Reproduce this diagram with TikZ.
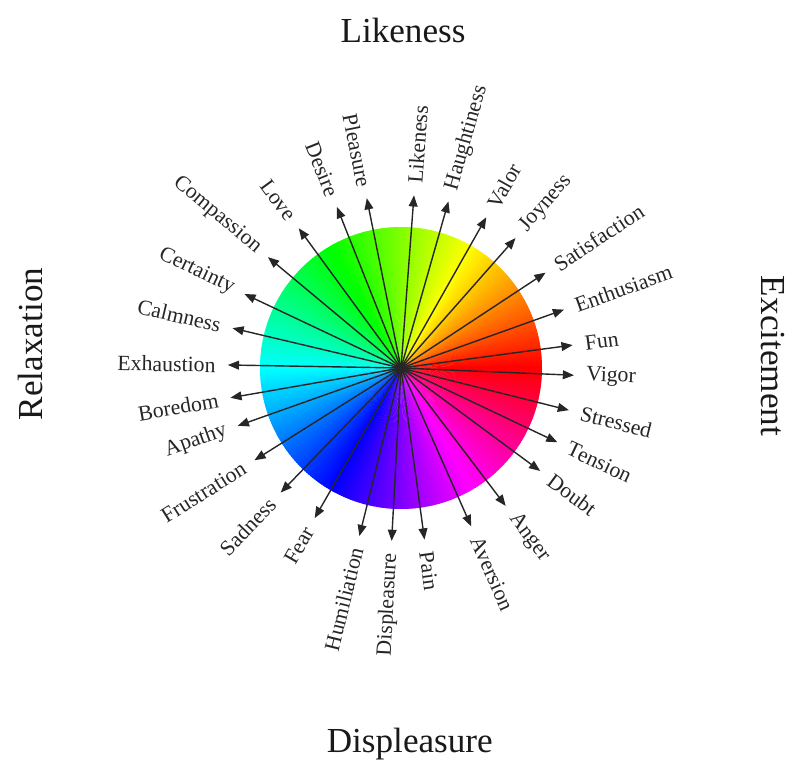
\documentclass[tikz,border=0pt]{standalone}
\usepackage{fontspec}
\setmainfont{Liberation Serif}
\usepackage{tikz}
\usetikzlibrary{arrows.meta}

\tikzset{
  spoke/.style={black!85, line width=1pt, -{Triangle[length=0.28cm, width=0.22cm]}},
  feeling/.style={font=\fontsize{15.5}{18}\selectfont, text=black!85, inner xsep=0.3cm},
  axislbl/.style={font=\fontsize{25}{30}\selectfont, text=black!90}
}

\begin{document}
\begin{tikzpicture}
  \useasboundingbox (-10.025,-9.8) rectangle (9.8,9.2);

  % colour wheel
  \coordinate (ctr) at (0,0);
  \foreach \h in {0,...,359} {
    \definecolor{huecol}{Hsb}{\h,1,1}
    \fill[huecol] (ctr) -- (\h-0.2:3.525) arc[start angle=\h-0.2, end angle=\h+1.2, radius=3.525] -- cycle;
  }

  % spokes, right half
  \foreach \a/\t [count=\i] in {85.7/Likeness, 74.1/Haughtiness, 60.5/Valor, 48.6/Joyness,
      33.4/Satisfaction, 19.7/Enthusiasm, 7.6/Fun, -2.4/Vigor, -14.1/Stressed,
      -25.4/Tension, -36.5/Doubt, -52.8/Anger, -66.1/Aversion, -82.2/Pain} {
    \coordinate (rtip\i) at (\a:4.33);
    \draw[spoke] (ctr) -- (rtip\i);
    \node[feeling, rotate=\a, anchor=west] (rlbl\i) at (rtip\i) {\t};
  }

  % spokes, left half
  \foreach \a/\t [count=\i] in {101.4/Pleasure, 111.7/Desire, 126.2/Love, 140.2/Compassion,
      154.7/Certainty, 166.7/Calmness, 179.0/Exhaustion, 189.9/Boredom, 199.5/Apathy,
      212.2/Frustration, 226.0/Sadness, 240.1/Fear, 256.1/Humiliation, 266.9/Displeasure} {
    \coordinate (ltip\i) at (\a:4.33);
    \draw[spoke] (ctr) -- (ltip\i);
    \node[feeling, rotate=\a-180, anchor=east] (llbl\i) at (ltip\i) {\t};
  }

  % axis names
  \node[axislbl] (top) at (0.05,8.45) {Likeness};
  \node[axislbl] (bottom) at (0.22,-9.4) {Displeasure};
  \node[axislbl, rotate=90] (left) at (-9.27,0.6) {Relaxation};
  \node[axislbl, rotate=-90] (right) at (9.3,0.3) {Excitement};
\end{tikzpicture}
\end{document}
